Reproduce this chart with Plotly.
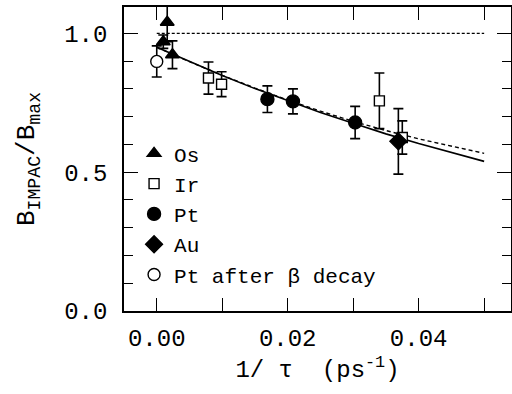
import plotly.graph_objects as go

# ---- data ----
os_x = [0.0010, 0.0016, 0.0024]
os_y = [0.970, 1.040, 0.923]
os_e = [0.024, 0.070, 0.050]

ir_x = [0.0079, 0.0099, 0.0340, 0.0375]
ir_y = [0.839, 0.817, 0.757, 0.625]
ir_e = [0.058, 0.045, 0.100, 0.060]

pt_x = [0.0169, 0.0208, 0.0303]
pt_y = [0.763, 0.755, 0.679]
pt_e = [0.048, 0.045, 0.058]

au_x = [0.0369]
au_y = [0.611]
au_e = [0.118]

ptb_x = [0.0000]
ptb_y = [0.899]
ptb_e = [0.056]

curve_x = [0.0, 0.005, 0.01, 0.015, 0.02, 0.025, 0.03, 0.035, 0.04, 0.045, 0.05]
solid_y = [0.950, 0.898, 0.848, 0.801, 0.757, 0.715, 0.676, 0.638, 0.603, 0.570, 0.539]
dashed_y = [0.950, 0.898, 0.849, 0.803, 0.760, 0.720, 0.683, 0.650, 0.620, 0.593, 0.568]

ref_x = [0.0, 0.05]
ref_y = [1.0, 1.0]

FONT = "Liberation Mono"

fig = go.Figure()

fig.add_trace(go.Scatter(x=ref_x, y=ref_y, mode="lines", showlegend=False,
                         line=dict(color="black", width=1.4, dash="3px,2px")))
fig.add_trace(go.Scatter(x=curve_x, y=dashed_y, mode="lines", showlegend=False,
                         line=dict(color="black", width=1.4, dash="4px,3px")))
fig.add_trace(go.Scatter(x=curve_x, y=solid_y, mode="lines", showlegend=False,
                         line=dict(color="black", width=1.6)))

def pts(name, x, y, e, symbol, size, filled=True):
    fig.add_trace(go.Scatter(
        x=x, y=y, name=name, mode="markers",
        error_y=dict(type="data", array=e, visible=True, color="black",
                     thickness=1.6, width=5),
        marker=dict(symbol=symbol, size=size,
                    color="black" if filled else "white",
                    line=dict(color="black", width=1.4))))

pts("Os", os_x, os_y, os_e, "triangle-up", 12)
pts("Ir", ir_x, ir_y, ir_e, "square", 10, filled=False)
pts("Pt", pt_x, pt_y, pt_e, "circle", 13)
pts("Au", au_x, au_y, au_e, "diamond", 13)
pts("Pt after β decay", ptb_x, ptb_y, ptb_e, "circle", 12, filled=False)

axis_common = dict(showline=True, linecolor="black", linewidth=1.6, mirror="allticks",
                   ticks="inside", tickcolor="black", tickwidth=1.4,
                   showgrid=False, zeroline=False,
                   tickfont=dict(family=FONT, size=24, color="black"))

fig.update_xaxes(range=[-0.005, 0.0541], tick0=0, dtick=0.02, ticklen=13,
                 tickformat=".2f", ticklabelstandoff=4,
                 minor=dict(dtick=0.01, tick0=0, ticks="inside", ticklen=13,
                            tickcolor="black", tickwidth=1.4),
                 title=dict(text="1/ τ  (ps<sup>-1</sup>)",
                            font=dict(family=FONT, size=24, color="black"),
                            standoff=4),
                 **axis_common)
fig.update_yaxes(range=[0, 1.095], tick0=0, dtick=0.5, ticklen=14,
                 tickformat=".1f", ticklabelstandoff=10,
                 minor=dict(dtick=0.1, tick0=0, ticks="inside", ticklen=9,
                            tickcolor="black", tickwidth=1.4),
                 title=dict(text="B<sub>IMPAC</sub>/B<sub>max</sub>",
                            font=dict(family=FONT, size=26, color="black"),
                            standoff=22),
                 **axis_common)

fig.update_layout(
    width=512, height=394,
    margin=dict(l=124, r=1, t=7, b=83, autoexpand=False),
    paper_bgcolor="white", plot_bgcolor="white",
    font=dict(family=FONT, color="black"),
    legend=dict(x=0.026, y=0.585, xanchor="left", yanchor="top",
                bgcolor="rgba(0,0,0,0)", borderwidth=0,
                font=dict(family=FONT, size=21, color="black"),
                itemwidth=30, tracegroupgap=0),
)

fig.write_html("out.html", config={"displayModeBar": False},
               post_script="document.body.style.margin='0';")
